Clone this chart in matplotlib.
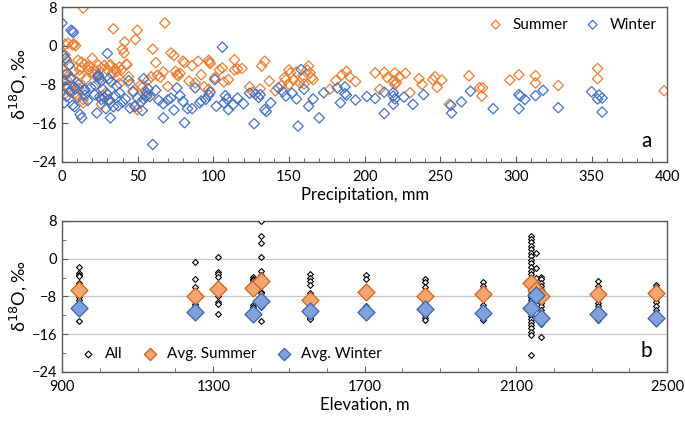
import numpy as np
import matplotlib
matplotlib.use("Agg")
import matplotlib.pyplot as plt
from matplotlib.ticker import MultipleLocator

plt.rcParams['font.family'] = ['Lato', 'DejaVu Sans']
plt.rcParams['mathtext.fontset'] = 'dejavusans'

# ---- panel a: precipitation (mm) vs d18O ----
summer_p = [14, 2, 4, 7, 8, 9, 2, 10.6, 12.8, 15, 20, 1, 2, 3, 7.6, 11.7, 17.2, 19.4, 1.3, 8.4,
            9.5, 14, 14, 5, 6, 10, 12, 16, 18, 4, 6, 11, 13, 3, 0.5,
            21.6, 23.8, 28, 31.3, 35, 38, 39.2, 42.5, 34, 49.8, 48.5, 41.4, 40, 41, 48.6, 49.7,
            52, 53, 26, 30, 32, 36, 43, 25, 27, 29, 33, 37, 45, 47, 24, 22, 55, 57, 60, 62, 59,
            56, 44, 38, 26,
            68, 72, 74, 67, 75, 76, 77, 78, 80, 81, 84, 90, 92, 97, 97.5, 98, 97, 104, 106, 110,
            114, 114, 116, 119, 63, 65, 70, 88, 94, 101, 107, 86,
            124, 126, 132, 134, 137, 141, 147, 148, 150, 151, 150, 153, 155, 157, 159, 162, 163,
            164, 165, 166, 177, 181, 185, 188, 190, 194, 145, 131, 160,
            207, 213, 215, 210, 220, 223, 219, 220, 221, 227, 230, 236, 238, 245, 246.5, 248, 251,
            256, 269, 276, 277.5, 278, 296, 302, 313, 313, 328, 354, 354, 398]
summer_d = [7.8, 0.3, 0.5, 0.2, 0.3, 0.0, -1.9, -3.0, -3.4, -3.8, -2.6, -5.0, -6.0, -7.0, -5.3,
            -5.0, -5.0, -5.3, -10.1, -9.8, -10.1, -11.1, -11.8, -4.0, -6.5, -7.5, -6.2, -6.8,
            -4.3, -8.7, -9.3, -8.8, -4.5, -3.0, -9.5,
            -6.0, -6.3, -4.1, -4.1, -4.8, -4.4, -5.0, -3.8, 3.5, 3.2, 1.3, 0.8, -0.7, -1.5,
            -12.5, -13.2, -8.1, -8.6, -4.6, -5.0, -3.9, -5.4, -3.9, -7.6, -10.3, -9.7, -5.8,
            -6.5, -7.9, -9.6, -4.0, -5.0, -9.5, -7.1, -0.7, -3.5, -6.4, -10.5, -6.4, -7.8, -12.1,
            4.7, -1.5, -2.0, -5.4, -5.3, -6.0, -6.2, -5.7, -3.2, -3.5, -7.3, -3.2, -6.0, -3.0,
            -3.4, -3.7, -9.0, -5.0, -4.6, -7.0, -2.9, -5.0, -4.8, -4.7, -6.1, -6.5, -8.4, -7.7,
            -8.5, -6.6, -7.5, -4.1,
            -8.5, -9.6, -4.2, -3.2, -7.3, -9.3, -6.6, -7.0, -5.0, -5.6, -8.0, -7.1, -5.4, -7.6,
            -6.8, -5.0, -4.2, -5.6, -6.6, -7.0, -9.0, -7.2, -6.0, -5.3, -6.4, -7.4, -8.2, -8.9,
            -7.9,
            -5.6, -5.5, -6.6, -9.0, -5.6, -6.4, -7.3, -8.0, -7.6, -5.7, -9.7, -6.8, -8.0, -7.0,
            -6.4, -8.6, -7.1, -12.1, -6.2, -8.7, -10.4, -8.7, -7.1, -6.0, -6.2, -7.7, -8.2, -4.7,
            -6.8, -9.3]

winter_p = [0, 6, 7, 7.5, 2.4, 4.6, 3.5, 5.7, 11, 15, 7, 12, 13, 2.4, 8, 9, 15.2, 15.2, 8.4, 1,
            3, 5, 10, 17, 19, 0.5, 1.5,
            30, 24, 25, 26, 24, 31, 32.5, 44.1, 54, 21.6, 24.9, 26, 28, 30, 31, 32, 23, 32, 29,
            34, 37, 40, 42, 38, 47, 48, 52, 54, 56, 56, 57, 58, 60, 35, 27, 45, 50, 53, 22, 36,
            62, 64, 67, 67, 70, 72, 76, 78, 81, 80, 83, 86, 91, 92, 95, 97, 98, 101, 106, 107,
            108, 109, 110, 113, 120, 88, 74, 102, 116, 124, 127, 128, 130, 131, 134, 135,
            138, 143, 146, 155, 156, 158, 160, 163, 166, 170, 173, 182, 184, 187, 187, 188, 194,
            148, 152,
            201.5, 207, 213, 213, 219, 219, 220, 219, 226, 232, 239, 257, 257.5, 264, 270, 285,
            302, 303, 306, 302, 313, 318, 328, 350, 354, 357, 357, 355]
winter_d = [4.7, 3.2, 3.0, 2.7, -2.6, -4.0, -5.7, -6.7, -8.0, -9.0, -12.3, -14.2, -14.9, -8.5,
            -8.5, -8.9, -9.2, -10.2, -12.6, -2.0, -10.5, -9.4, -10.6, -11.3, -8.6, -7.3, -11.8,
            -1.6, -6.4, -6.8, -7.2, -6.0, -6.8, -7.5, -7.2, -6.8, -10.1, -10.5, -11.1, -10.8,
            -10.0, -11.1, -11.8, -13.9, -14.9, -13.0, -12.6, -12.4, -11.7, -11.0, -9.7, -9.4,
            -12.5, -11.7, -11.0, -9.7, -10.3, -8.9, -10.5, -20.4, -10.3, -9.0, -12.9, -10.8,
            -13.4, -8.2, -8.3,
            -9.2, -11.3, -14.9, -12.0, -11.2, -10.8, -8.7, -10.3, -15.9, -11.5, -13.0, -13.0,
            -11.8, -11.4, -11.1, -10.2, -9.6, -7.0, -0.3, -11.8, -10.3, -11.0, -13.2, -12.2,
            -12.0, -8.7, -13.3, -12.5, -10.8, -9.8, -16.1, -10.0, -10.7, -10.1, -13.2, -13.6,
            -11.8, -8.7, -9.5, -11.0, -16.6, -4.9, -9.0, -12.5, -11.0, -14.9, -9.7, -8.7, -11.8,
            -8.5, -9.9, -10.2, -11.2, -10.4, -9.8,
            -10.5, -10.9, -14.0, -9.6, -9.7, -10.4, -11.0, -12.1, -10.6, -12.1, -10.1, -12.3,
            -13.9, -11.6, -9.4, -13.0, -10.1, -10.4, -11.1, -13.0, -10.3, -9.2, -12.8, -9.5,
            -11.0, -10.8, -13.7, -10.2]

# ---- panel b: elevation (m) vs d18O ----
all_elev = ([944] * 16 + [1252] * 9 + [1312] * 9 + [1404] * 8 + [1427] * 13 + [1556] * 13
            + [1705] * 5 + [1860] * 14 + [2013] * 9 + [2141] * 32 + [2152] * 3 + [2166] * 16
            + [2317] * 9 + [2471] * 11)
all_d = [-1.7, -3.1, -3.4, -3.6, -5.2, -5.6, -6.0, -6.8, -7.5, -8.2, -8.8, -9.3, -10.0, -10.6,
         -11.0, -13.3,
         -0.6, -4.4, -6.1, -9.6, -10.0, -10.4, -10.8, -11.2, -11.5,
         0.4, -2.9, -3.3, -3.8, -6.4, -8.0, -9.2, -9.6, -11.8,
         -3.8, -4.2, -4.6, -5.0, -9.8, -10.2, -10.6, -11.0,
         7.9, 4.8, 3.3, 0.3, -2.7, -3.5, -4.2, -5.5, -7.0, -7.2, -9.8, -10.3, -13.2,
         -3.3, -4.0, -4.7, -5.6, -7.2, -7.8, -9.0, -10.0, -10.8, -11.5, -12.0, -12.5, -12.8,
         -3.4, -4.4, -10.0, -10.5, -11.0,
         -4.3, -5.0, -5.9, -6.8, -7.5, -8.2, -9.0, -9.6, -10.2, -10.8, -11.4, -12.0, -12.6,
         -13.1,
         -5.0, -5.7, -6.5, -9.8, -10.4, -11.0, -11.8, -12.5, -13.0,
         4.9, 4.2, 3.5, 2.8, 2.0, 1.3, 0.6, -0.2, -1.0, -1.7, -2.5, -3.2, -4.0, -4.6, -5.4,
         -6.1, -6.8, -7.5, -8.1, -8.8, -9.5, -10.1, -10.8, -11.4, -12.1, -12.8, -13.4, -14.1,
         -14.8, -15.5, -16.2, -20.4,
         1.2, -2.0, -4.0,
         -3.8, -4.4, -5.1, -5.8, -6.5, -7.2, -8.0, -8.7, -9.4, -10.1, -10.8, -11.5, -12.2,
         -13.0, -13.8, -16.7,
         -4.7, -5.8, -9.4, -10.0, -10.6, -11.2, -12.0, -12.6, -13.0,
         -5.6, -6.0, -6.5, -8.5, -9.2, -10.0, -10.8, -11.5, -12.2, -13.0, -13.6]

avg_s_elev = [944, 1252, 1312, 1404, 1427, 1556, 1705, 1860, 2013, 2141, 2153, 2166, 2317, 2471]
avg_s_d = [-6.6, -8.0, -6.4, -6.3, -4.7, -8.7, -7.0, -8.0, -7.5, -5.1, -6.6, -7.9, -7.5, -7.3]
avg_w_elev = [944, 1252, 1404, 1427, 1556, 1705, 1860, 2013, 2141, 2153, 2166, 2317, 2471]
avg_w_d = [-10.4, -11.3, -11.7, -9.0, -11.0, -11.2, -10.7, -11.6, -10.4, -7.7, -12.5, -11.8,
           -12.6]

orange = '#ED7D31'
blue = '#4472C4'
spine_c = '#595959'

fig = plt.figure(figsize=(6.85, 4.25), dpi=100)
ax1 = fig.add_axes([0.0905, 0.619, 0.8835, 0.3645])
ax2 = fig.add_axes([0.0905, 0.125, 0.8835, 0.355])

ax1.scatter(summer_p, summer_d, marker='D', s=28, facecolors='none', edgecolors=orange,
            linewidths=0.9, label='Summer')
ax1.scatter(winter_p, winter_d, marker='D', s=28, facecolors='none', edgecolors=blue,
            linewidths=0.9, label='Winter')
ax1.set_xlim(0, 400)
ax1.set_ylim(-24, 8)
ax1.xaxis.set_major_locator(MultipleLocator(50))
ax1.xaxis.set_minor_locator(MultipleLocator(10))
ax1.yaxis.set_major_locator(MultipleLocator(8))
ax1.set_xlabel('Precipitation, mm', fontsize=12, labelpad=2)
ax1.set_ylabel(r'δ$^{18}$O, ‰', fontsize=13, labelpad=2)
ax1.legend(loc='upper right', ncol=2, frameon=False, fontsize=11, handletextpad=0.1,
           columnspacing=0.6, borderaxespad=0.3, markerscale=0.85)
ax1.text(0.975, 0.07, 'a', transform=ax1.transAxes, fontsize=15, ha='right', va='bottom')

ax2.scatter(all_elev, all_d, marker='D', s=9, facecolors='white', edgecolors='black',
            linewidths=0.8, label='All', zorder=3)
ax2.scatter(avg_s_elev, avg_s_d, marker='D', s=75, facecolors='#F4A46E', edgecolors='#D0641E',
            linewidths=0.9, label='Avg. Summer', zorder=4)
ax2.scatter(avg_w_elev, avg_w_d, marker='D', s=75, facecolors='#7FA2DC', edgecolors='#3C64AE',
            linewidths=0.9, label='Avg. Winter', zorder=4)
ax2.set_xlim(900, 2500)
ax2.set_ylim(-24, 8)
ax2.set_xticks([900, 1300, 1700, 2100, 2500])
ax2.xaxis.set_minor_locator(MultipleLocator(100))
ax2.yaxis.set_major_locator(MultipleLocator(8))
ax2.yaxis.set_minor_locator(MultipleLocator(4))
ax2.grid(axis='y', which='major', color='#C8C8C8', linewidth=0.9, zorder=0)
ax2.set_axisbelow(True)
ax2.set_xlabel('Elevation, m', fontsize=12, labelpad=2)
ax2.set_ylabel(r'δ$^{18}$O, ‰', fontsize=13, labelpad=2)
leg = ax2.legend(loc='lower left', ncol=3, frameon=False, fontsize=11, handletextpad=0.1,
                 columnspacing=0.8, borderaxespad=0.3)
for h, sz in zip(leg.legend_handles, [12, 40, 40]):
    h.set_sizes([sz])
ax2.text(0.975, 0.07, 'b', transform=ax2.transAxes, fontsize=15, ha='right', va='bottom')

for ax in (ax1, ax2):
    for sp in ax.spines.values():
        sp.set_color(spine_c)
        sp.set_linewidth(1.0)
    ax.tick_params(which='both', direction='in', colors=spine_c, labelcolor='black',
                   labelsize=10.5)
    ax.tick_params(which='major', length=4)
    ax.tick_params(which='minor', length=3)
    ax.tick_params(axis='x', pad=6)

fig.savefig('out.png', dpi=100)
